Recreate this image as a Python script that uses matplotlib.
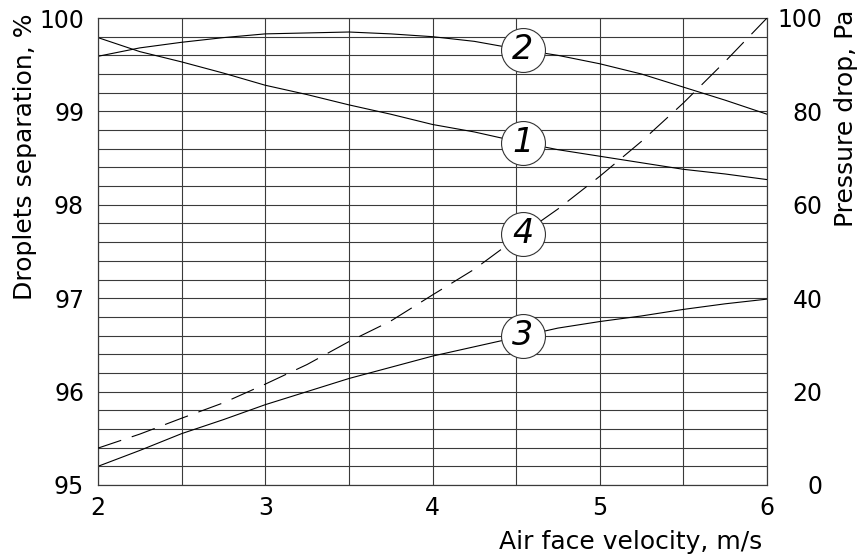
import matplotlib
matplotlib.use("Agg")
import matplotlib.pyplot as plt
import numpy as np

plt.rcParams['font.family'] = ['DejaVu Sans']

velocity = [2.0, 2.25, 2.5, 2.75, 3.0, 3.25, 3.5, 3.75, 4.0,
            4.25, 4.5, 4.75, 5.0, 5.25, 5.5, 5.75, 6.0]
sep_curve1 = [99.79, 99.64, 99.53, 99.41, 99.28, 99.18, 99.07, 98.97, 98.86,
              98.78, 98.68, 98.59, 98.52, 98.45, 98.38, 98.33, 98.27]
sep_curve2 = [99.59, 99.68, 99.74, 99.79, 99.83, 99.84, 99.85, 99.83, 99.80,
              99.75, 99.67, 99.60, 99.51, 99.40, 99.26, 99.12, 98.97]
sep_curve3 = [95.20, 95.37, 95.55, 95.70, 95.86, 96.00, 96.14, 96.26, 96.38,
              96.48, 96.58, 96.68, 96.75, 96.81, 96.88, 96.94, 96.99]
dp_curve4 = [7.9, 10.9, 14.3, 17.6, 21.6, 25.8, 30.7, 35.1, 40.7,
             46.2, 52.8, 59.1, 66.1, 73.6, 81.8, 90.7, 100.0]

x_ticks = [2, 3, 4, 5, 6]
left_ticks = [95, 96, 97, 98, 99, 100]
right_ticks = [0, 20, 40, 60, 80, 100]
curve_names = ["1", "2", "3", "4"]

W, H = 864, 555
fig = plt.figure(figsize=(W / 100, H / 100), dpi=100)
L, R, T, B = 98, 767, 18, 485
ax = fig.add_axes([L / W, 1 - B / H, (R - L) / W, (B - T) / H])
ax2 = ax.twinx()

gc = '#3a3a3a'
lw = 0.8

ax.set_xlim(2, 6)
ax.set_ylim(95, 100)
ax2.set_ylim(0, 100)

# grid
ax.set_xticks(np.arange(2, 6.01, 0.5), minor=True)
ax.set_yticks(np.arange(95, 100.01, 0.2), minor=True)
ax.grid(which='minor', color=gc, linewidth=lw)
ax.grid(which='major', color=gc, linewidth=lw)
ax.set_axisbelow(True)

ax.set_xticks(x_ticks)
ax.set_xticklabels([str(v) for v in x_ticks])
ax.set_yticks(left_ticks)
ax.set_yticklabels([str(v) for v in left_ticks])
ax2.set_yticks(right_ticks)
ax2.set_yticklabels([str(v) for v in right_ticks])

ax.tick_params(which='both', length=0)
ax.tick_params(axis='x', labelsize=17, pad=8)
ax.tick_params(axis='y', labelsize=17, pad=10)
ax2.tick_params(length=0, labelsize=17, pad=40)
for t in ax2.get_yticklabels():
    t.set_ha('right')

for a in (ax, ax2):
    for s in a.spines.values():
        s.set_color(gc)
        s.set_linewidth(lw)

ax.plot(velocity, sep_curve1, color='black', lw=lw, zorder=3)
ax.plot(velocity, sep_curve2, color='black', lw=lw, zorder=3)
ax.plot(velocity, sep_curve3, color='black', lw=lw, zorder=3)
ax2.plot(velocity, dp_curve4, color='black', lw=lw, linestyle=(0, (22, 10)), zorder=3)

lx = 4.54
def badge(a, series, name):
    yv = np.interp(lx, velocity, series)
    a.scatter([lx], [yv], s=1000, facecolor='white', edgecolor='#333333',
              linewidth=lw, zorder=5, clip_on=False)
    a.text(lx, yv, name, fontsize=24, style='italic', ha='center', va='center',
           zorder=6)

badge(ax, sep_curve1, curve_names[0])
badge(ax, sep_curve2, curve_names[1])
badge(ax, sep_curve3, curve_names[2])
badge(ax2, dp_curve4, curve_names[3])

fig.text(25 / W, 1 - 13 / H, "Droplets separation, %", rotation=90,
         ha='center', va='top', fontsize=18)
fig.text(846 / W, 1 - 10 / H, "Pressure drop, Pa", rotation=90,
         ha='center', va='top', fontsize=18)
fig.text(762 / W, 1 - 542 / H, "Air face velocity, m/s", ha='right',
         va='center', fontsize=18)

fig.savefig("out.png", dpi=100)
